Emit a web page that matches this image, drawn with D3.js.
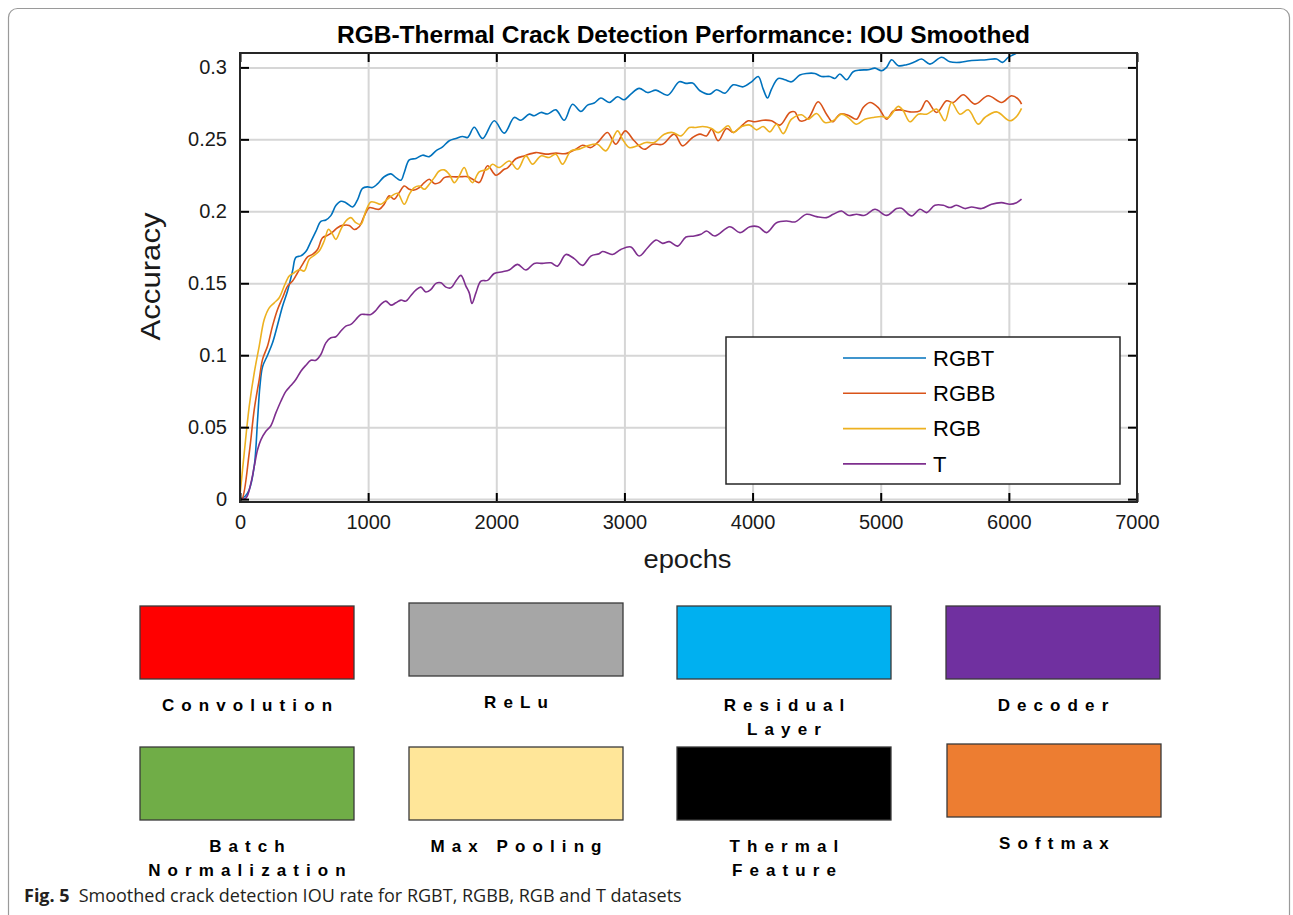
<!DOCTYPE html>
<html>
<head>
<meta charset="utf-8">
<script src="https://cdn.jsdelivr.net/npm/d3@7"></script>
<style>
  body { margin: 0; background: #fff; }
  svg { display: block; }
  text { font-family: "Liberation Sans", Arial, sans-serif; }
</style>
</head>
<body>
<div class="chart"></div>
<script>
// values: [epoch, accuracy]
const rgbt = [[0,0],[40,0.002],[72,0.0065],[111,0.0227],[137,0.055],[155,0.078],[176,0.092],[215,0.100],[254,0.1086],[293,0.121],[332,0.134],[371,0.1446],[410,0.1585],[436,0.168],[475,0.169],[514,0.172],[553,0.179],[592,0.186],[631,0.193],[670,0.194],[709,0.197],[748,0.204],[787,0.207],[826,0.206],[878,0.203],[917,0.208],[956,0.216],[995,0.217],[1034,0.2165],[1073,0.219],[1125,0.224],[1178,0.226],[1217,0.2234],[1256,0.2216],[1282,0.227],[1321,0.2357],[1373,0.2367],[1425,0.239],[1477,0.238],[1529,0.242],[1581,0.2448],[1633,0.249],[1685,0.2506],[1737,0.252],[1776,0.2513],[1828,0.2584],[1893,0.2506],[1984,0.2629],[2062,0.2543],[2140,0.2652],[2192,0.2633],[2257,0.2675],[2296,0.2664],[2348,0.2687],[2400,0.2676],[2465,0.2705],[2530,0.2633],[2595,0.2744],[2660,0.2694],[2712,0.2738],[2764,0.2752],[2816,0.2787],[2881,0.2756],[2946,0.2796],[2998,0.2775],[3050,0.2814],[3115,0.2854],[3181,0.2825],[3246,0.2842],[3337,0.2807],[3428,0.290],[3480,0.2889],[3532,0.2891],[3589,0.2838],[3667,0.2814],[3719,0.2845],[3784,0.2821],[3849,0.2879],[3927,0.2865],[3992,0.290],[4044,0.2937],[4083,0.2849],[4117,0.2787],[4148,0.2849],[4200,0.2923],[4252,0.2914],[4304,0.290],[4369,0.2947],[4421,0.2958],[4486,0.2958],[4538,0.2937],[4603,0.2937],[4642,0.2923],[4681,0.2954],[4733,0.2914],[4785,0.297],[4837,0.2981],[4903,0.2984],[4955,0.2995],[5007,0.2977],[5046,0.300],[5085,0.3053],[5137,0.3012],[5202,0.3019],[5267,0.3039],[5319,0.3058],[5384,0.3023],[5475,0.307],[5540,0.3039],[5618,0.3035],[5696,0.3046],[5826,0.3053],[5904,0.3058],[5951,0.3035],[5995,0.307],[6047,0.3093],[6100,0.312]];

const rgbb = [[0,0],[15,0],[72,0.032],[111,0.0622],[150,0.0831],[176,0.0971],[215,0.1064],[254,0.1204],[293,0.1318],[332,0.1399],[371,0.148],[410,0.1515],[449,0.1573],[488,0.1631],[527,0.1684],[566,0.1701],[605,0.1735],[644,0.1816],[683,0.1833],[722,0.1856],[761,0.1886],[800,0.1902],[852,0.1902],[891,0.1874],[930,0.1893],[969,0.1967],[1008,0.2025],[1047,0.2019],[1087,0.2014],[1125,0.2049],[1164,0.2107],[1203,0.2084],[1243,0.213],[1282,0.2176],[1321,0.2153],[1360,0.2148],[1399,0.2165],[1438,0.2199],[1477,0.2223],[1516,0.2193],[1555,0.2199],[1594,0.2234],[1633,0.2241],[1685,0.2239],[1737,0.2241],[1776,0.2241],[1815,0.2223],[1867,0.220],[1932,0.2316],[1997,0.2251],[2062,0.2292],[2088,0.2302],[2153,0.2365],[2218,0.2385],[2309,0.2408],[2387,0.2397],[2465,0.2404],[2543,0.2401],[2621,0.2431],[2673,0.2459],[2738,0.2443],[2803,0.249],[2868,0.2548],[2933,0.2466],[3006,0.2559],[3076,0.249],[3155,0.2431],[3220,0.2466],[3298,0.2466],[3389,0.2536],[3454,0.2455],[3532,0.2513],[3589,0.2536],[3641,0.2524],[3680,0.2571],[3732,0.249],[3797,0.2575],[3849,0.2548],[3901,0.2582],[3966,0.2629],[4018,0.2622],[4083,0.2633],[4148,0.2629],[4213,0.2599],[4291,0.2687],[4330,0.2691],[4369,0.2629],[4434,0.2645],[4512,0.2761],[4577,0.2675],[4624,0.2622],[4681,0.2675],[4746,0.2668],[4811,0.264],[4863,0.2721],[4916,0.2756],[4981,0.2721],[5046,0.264],[5098,0.2698],[5150,0.2705],[5228,0.2691],[5306,0.2698],[5358,0.2768],[5436,0.2687],[5514,0.2768],[5566,0.2756],[5644,0.281],[5735,0.2745],[5839,0.2803],[5943,0.2756],[6021,0.2803],[6073,0.278],[6099,0.2745]];

const rgb = [[0,0.003],[33,0.032],[72,0.0645],[111,0.0877],[150,0.1063],[189,0.1248],[228,0.1329],[267,0.1364],[306,0.1399],[345,0.148],[384,0.155],[423,0.1573],[462,0.1596],[501,0.1585],[540,0.1666],[579,0.1694],[618,0.1724],[657,0.1794],[691,0.1875],[722,0.184],[748,0.1805],[787,0.1875],[826,0.1933],[865,0.1956],[904,0.1921],[943,0.1909],[982,0.2002],[1021,0.2065],[1060,0.206],[1099,0.2049],[1151,0.2084],[1190,0.2111],[1230,0.2125],[1282,0.2049],[1321,0.2118],[1360,0.2165],[1399,0.2176],[1438,0.2153],[1477,0.2188],[1516,0.2234],[1555,0.228],[1594,0.2288],[1633,0.2257],[1672,0.2199],[1711,0.2246],[1750,0.2304],[1784,0.2234],[1815,0.2199],[1867,0.2274],[1932,0.2292],[1971,0.2327],[2023,0.2304],[2101,0.235],[2166,0.2292],[2231,0.2385],[2283,0.2327],[2348,0.2385],[2413,0.2374],[2465,0.2397],[2517,0.2327],[2582,0.242],[2647,0.2432],[2712,0.2455],[2790,0.2466],[2855,0.242],[2946,0.2559],[2985,0.2501],[3037,0.2443],[3102,0.2455],[3168,0.2478],[3233,0.2478],[3311,0.2536],[3376,0.2548],[3441,0.2524],[3506,0.2582],[3558,0.2582],[3610,0.2589],[3680,0.2575],[3732,0.2547],[3810,0.2594],[3849,0.2547],[3914,0.2589],[3979,0.2599],[4031,0.2566],[4083,0.2589],[4135,0.2552],[4187,0.2605],[4239,0.254],[4304,0.264],[4382,0.2671],[4434,0.264],[4499,0.268],[4564,0.2617],[4629,0.2629],[4694,0.2675],[4746,0.2652],[4811,0.2605],[4876,0.264],[4941,0.2652],[5007,0.2659],[5059,0.2652],[5137,0.2729],[5176,0.2698],[5228,0.2622],[5293,0.2675],[5358,0.2675],[5436,0.271],[5501,0.2629],[5553,0.2756],[5618,0.2675],[5683,0.2705],[5761,0.2606],[5813,0.2652],[5904,0.2691],[6008,0.2629],[6060,0.2659],[6099,0.2715]];

const thermal = [[0,0],[46,0.0007],[85,0.0111],[111,0.0227],[137,0.0343],[163,0.0412],[202,0.0471],[241,0.051],[280,0.0599],[319,0.068],[358,0.0749],[397,0.0789],[436,0.0831],[475,0.0889],[514,0.093],[553,0.0965],[592,0.0965],[631,0.1005],[670,0.1086],[709,0.1121],[748,0.1128],[787,0.1168],[826,0.1202],[865,0.1214],[904,0.1248],[943,0.1283],[982,0.1283],[1021,0.1283],[1060,0.1311],[1099,0.1353],[1138,0.1376],[1178,0.1348],[1217,0.1364],[1256,0.1383],[1295,0.1376],[1334,0.1415],[1372,0.1452],[1411,0.1473],[1450,0.1439],[1490,0.1457],[1529,0.1499],[1568,0.1503],[1607,0.1473],[1646,0.1468],[1685,0.1515],[1724,0.1555],[1763,0.148],[1789,0.1433],[1810,0.136],[1841,0.1433],[1880,0.1515],[1932,0.152],[1984,0.1568],[2049,0.158],[2101,0.1592],[2166,0.1631],[2231,0.1592],[2296,0.1638],[2361,0.1638],[2426,0.1642],[2478,0.1619],[2543,0.17],[2608,0.1671],[2673,0.1624],[2738,0.1689],[2803,0.1705],[2829,0.1721],[2907,0.17],[2972,0.1735],[3050,0.1752],[3115,0.1689],[3181,0.1747],[3246,0.18],[3298,0.1777],[3350,0.1789],[3415,0.1758],[3480,0.1821],[3545,0.1828],[3597,0.184],[3641,0.1863],[3706,0.1828],[3823,0.1893],[3901,0.1852],[3979,0.1893],[4044,0.1893],[4109,0.1852],[4187,0.1921],[4265,0.1933],[4330,0.1926],[4421,0.1979],[4499,0.1963],[4577,0.1956],[4629,0.1979],[4694,0.2002],[4746,0.1972],[4811,0.1979],[4876,0.1972],[4955,0.2014],[5046,0.1972],[5124,0.2019],[5163,0.2021],[5241,0.1968],[5306,0.2014],[5358,0.1991],[5423,0.2042],[5488,0.2042],[5540,0.2026],[5592,0.2042],[5657,0.2019],[5709,0.203],[5787,0.2019],[5865,0.2049],[5943,0.206],[6008,0.2049],[6060,0.206],[6099,0.2084]];

const seriesNames = ['RGBT', 'RGBB', 'RGB', 'T'];
const seriesColors = ['#0072BD', '#D95319', '#EDB120', '#7E2F8E'];
const xTicks = [0, 1000, 2000, 3000, 4000, 5000, 6000, 7000];
const yTicks = [0, 0.05, 0.1, 0.15, 0.2, 0.25, 0.3];

// network block key under the chart
const blockNames = [['Convolution'], ['ReLu'], ['Residual', 'Layer'], ['Decoder'],
                    ['Batch', 'Normalization'], ['Max Pooling'], ['Thermal', 'Feature'], ['Softmax']];
const blockColors = ['#FF0000', '#A6A6A6', '#00B0F0', '#7030A0',
                     '#70AD47', '#FFE699', '#000000', '#ED7D31'];

const margin = {top: 53, right: 156, bottom: 413, left: 240};
const W = 1293, H = 915;
const width = W - margin.left - margin.right;
const height = H - margin.top - margin.bottom;

let root = d3.select('.chart')
    .append('svg')
        .attr('width', W)
        .attr('height', H);

// page frame
root.append('rect')
    .attr('x', 8.5).attr('y', 8.5)
    .attr('width', 1281).attr('height', 940)
    .attr('rx', 9)
    .style('fill', 'none')
    .style('stroke', '#9a9a9a')
    .style('stroke-width', 1.2);

let svg = root.append('g')
    .attr('transform', `translate(${margin.left}, ${margin.top})`);

let xScale = d3.scaleLinear()
    .domain([0, 7000])
    .range([0, width]);

let yScale = d3.scaleLinear()
    .domain([-0.002, 0.31])
    .range([height, 0]);

// grid
svg.append('g')
    .attr('transform', `translate(0, ${height})`)
    .call(d3.axisBottom(xScale).tickValues(xTicks.slice(1, -1)).tickSize(-height).tickFormat(''))
    .call(g => g.select('.domain').remove())
    .call(g => g.selectAll('line').style('stroke', '#d6d6d6').style('stroke-width', 1.5));
svg.append('g')
    .call(d3.axisLeft(yScale).tickValues(yTicks).tickSize(-width).tickFormat(''))
    .call(g => g.select('.domain').remove())
    .call(g => g.selectAll('line').style('stroke', '#d6d6d6').style('stroke-width', 1.5));

// curves
svg.append('clipPath').attr('id', 'plotclip')
    .append('rect').attr('width', width).attr('height', height);

let line = d3.line()
    .x(d => xScale(d[0]))
    .y(d => yScale(d[1]))
    .curve(d3.curveCatmullRom.alpha(0.5));

[rgbt, rgbb, rgb, thermal].forEach((s, i) => {
    svg.append('path')
        .datum(s)
        .attr('clip-path', 'url(#plotclip)')
        .attr('d', line)
        .style('fill', 'none')
        .style('stroke', seriesColors[i])
        .style('stroke-width', 1.6);
});

// axes, ticks on all four sides pointing in
const tickFont = g => g.selectAll('text')
    .style('font-size', '20px')
    .style('fill', '#1a1a1a');

svg.append('g')
    .attr('transform', `translate(0, ${height})`)
    .call(d3.axisBottom(xScale).tickValues(xTicks).tickFormat(d3.format('d'))
        .tickSizeInner(-9).tickSizeOuter(0).tickPadding(13))
    .call(tickFont)
    .call(g => g.select('.domain').remove());
svg.append('g')
    .call(d3.axisTop(xScale).tickValues(xTicks).tickSizeInner(-9).tickSizeOuter(0).tickFormat(''))
    .call(g => g.select('.domain').remove());
svg.append('g')
    .call(d3.axisLeft(yScale).tickValues(yTicks).tickFormat(d3.format('~g'))
        .tickSizeInner(-9).tickSizeOuter(0).tickPadding(13))
    .call(tickFont)
    .call(g => g.select('.domain').remove());
svg.append('g')
    .attr('transform', `translate(${width}, 0)`)
    .call(d3.axisRight(yScale).tickValues(yTicks).tickSizeInner(-9).tickSizeOuter(0).tickFormat(''))
    .call(g => g.select('.domain').remove());
svg.selectAll('g.tick line').style('stroke-width', 2);

svg.append('rect')
    .attr('width', width)
    .attr('height', height)
    .style('fill', 'none')
    .style('stroke', '#262626')
    .style('stroke-width', 2);

// titles
svg.append('text')
    .attr('x', width / 2 - 5)
    .attr('y', -10)
    .attr('text-anchor', 'middle')
    .attr('textLength', 693)
    .attr('lengthAdjust', 'spacingAndGlyphs')
    .style('font-size', '23px')
    .style('font-weight', 'bold')
    .text('RGB-Thermal Crack Detection Performance: IOU Smoothed');

svg.append('text')
    .attr('x', width / 2 - 1)
    .attr('y', height + 66)
    .attr('text-anchor', 'middle')
    .attr('textLength', 88)
    .attr('lengthAdjust', 'spacingAndGlyphs')
    .style('font-size', '26px')
    .style('fill', '#1a1a1a')
    .text('epochs');

svg.append('text')
    .attr('transform', `translate(-80, ${height / 2 - 1}) rotate(-90)`)
    .attr('text-anchor', 'middle')
    .attr('textLength', 128)
    .attr('lengthAdjust', 'spacingAndGlyphs')
    .style('font-size', '27px')
    .style('fill', '#1a1a1a')
    .text('Accuracy');

// legend
let legend = svg.append('g')
    .attr('transform', `translate(${726 - margin.left}, ${337 - margin.top})`);
legend.append('rect')
    .attr('width', 394)
    .attr('height', 147)
    .style('fill', '#fff')
    .style('stroke', '#262626')
    .style('stroke-width', 1.5);
seriesNames.forEach((name, i) => {
    let row = legend.append('g').attr('transform', `translate(0, ${21 + i * 35.3})`);
    row.append('line')
        .attr('x1', 117).attr('x2', 200)
        .style('stroke', seriesColors[i])
        .style('stroke-width', 1.6);
    row.append('text')
        .attr('x', 207)
        .attr('dy', '0.35em')
        .style('font-size', '22px')
        .text(name);
});

// block key
const colX = [140, 409, 677, 946];
const rowY = [606, 747];
const blockShift = [[0, 0], [0, -3], [0, 0], [0, 0], [0, 0], [0, 0], [0, 0], [1, -3]];
blockNames.forEach((lines, i) => {
    let col = i % 4, row = Math.floor(i / 4);
    let g = root.append('g')
        .attr('transform', `translate(${colX[col] + blockShift[i][0]}, ${rowY[row] + blockShift[i][1]})`);
    g.append('rect')
        .attr('width', 214)
        .attr('height', 73)
        .style('fill', blockColors[i])
        .style('stroke', '#3a3a3a')
        .style('stroke-width', 1.3);
    lines.forEach((t, j) => {
        g.append('text')
            .attr('x', 107 + 3.5)
            .attr('y', 105 + j * 24)
            .attr('text-anchor', 'middle')
            .style('font-size', '17px')
            .style('font-weight', 'bold')
            .style('letter-spacing', '7.1px')
            .text(t);
    });
});

// caption
let cap = root.append('text')
    .attr('x', 24)
    .attr('y', 902)
    .style('font-family', '"Open Sans", "Noto Sans", sans-serif')
    .style('font-size', '18px')
    .style('fill', '#231f20');
cap.append('tspan').style('font-weight', 'bold').text('Fig. 5');
cap.append('tspan').attr('dx', 9).text('Smoothed crack detection IOU rate for RGBT, RGBB, RGB and T datasets');
</script>
</body>
</html>
